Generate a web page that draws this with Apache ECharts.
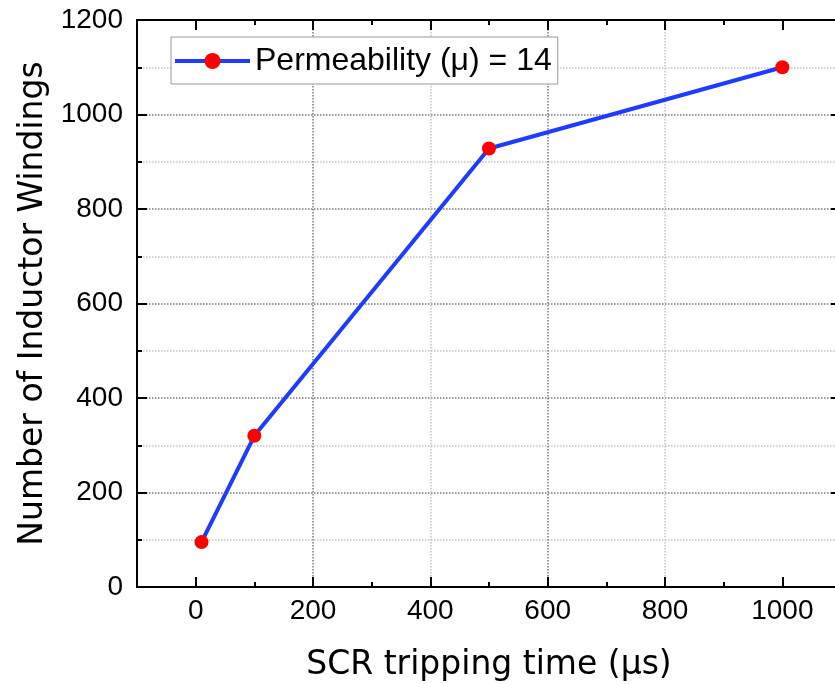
<!DOCTYPE html>
<html>
<head>
<meta charset="utf-8">
<script src="https://cdn.jsdelivr.net/npm/echarts@6/dist/echarts.min.js"></script>
<style>
html,body{margin:0;padding:0;background:#fff;}
#chart{width:835px;height:684px;}
</style>
</head>
<body>
<div id="chart"></div>
<script>
const seriesName = 'Permeability (\u03bc) = 14';
const tripTime = [10, 100, 500, 1000];
const windings = [95, 320, 928, 1100];
const xMajorTicks = [0, 200, 400, 600, 800, 1000];
const xMinorTicks = [100, 300, 500, 700, 900];
const xTitle = 'SCR tripping time (\u03bcs)';
const yTitle = 'Number of Inductor Windings';

const FONT = '"Liberation Sans", Arial, sans-serif';
const NAME_FONT = '"DejaVu Sans", "Liberation Sans", Arial, sans-serif';
const MAJOR_GRID = '#7a7a7a';
const MINOR_GRID = '#c4c4c4';
const gridRect = {left: 137, top: 20, width: 704, height: 567, outerBoundsMode: 'none', containLabel: false};

const chart = echarts.init(document.getElementById('chart'), null, {renderer: 'canvas'});

const axisLineStyle = {show: true, onZero: false, lineStyle: {color: '#000', width: 2}};
const plainNum = v => String(v);

const option = {
  backgroundColor: '#fff',
  animation: false,
  grid: [
    Object.assign({}, gridRect),
    Object.assign({}, gridRect)
  ],
  legend: {
    left: 171, top: 37,
    padding: [7, 6, 6, 2],
    itemWidth: 75, itemHeight: 20,
    itemGap: 8,
    borderColor: '#999', borderWidth: 1,
    backgroundColor: '#fff',
    lineStyle: {width: 4},
    textStyle: {fontFamily: FONT, fontSize: 32, color: '#000', lineHeight: 34},
    data: [seriesName]
  },
  xAxis: [
    {
      type: 'value', gridIndex: 0, position: 'bottom',
      min: -100, max: 1100, interval: 100,
      axisLine: axisLineStyle,
      axisTick: {show: true, inside: true, length: 10, customValues: xMajorTicks, lineStyle: {color: '#000', width: 2}},
      axisLabel: {show: true, customValues: xMajorTicks, formatter: plainNum, fontFamily: FONT, fontSize: 28, color: '#000', margin: 10},
      splitLine: {show: true, showMinLine: false, showMaxLine: false, lineStyle: {color: [MAJOR_GRID, MINOR_GRID], type: 'dotted', width: 1.5}},
      name: xTitle, nameLocation: 'middle', nameGap: 62,
      nameTextStyle: {fontFamily: NAME_FONT, fontSize: 33, color: '#000'}
    },
    {
      type: 'value', gridIndex: 0, position: 'top',
      min: -100, max: 1100, interval: 100,
      axisLine: axisLineStyle,
      axisTick: {show: true, inside: true, length: 10, customValues: xMajorTicks, lineStyle: {color: '#000', width: 2}},
      axisLabel: {show: false},
      splitLine: {show: false}
    },
    {
      type: 'value', gridIndex: 1, position: 'bottom',
      min: -100, max: 1100, interval: 100,
      axisLine: {show: false},
      axisTick: {show: true, inside: true, length: 5, customValues: xMinorTicks, lineStyle: {color: '#000', width: 2}},
      axisLabel: {show: false},
      splitLine: {show: false}
    },
    {
      type: 'value', gridIndex: 1, position: 'top',
      min: -100, max: 1100, interval: 100,
      axisLine: {show: false},
      axisTick: {show: true, inside: true, length: 5, customValues: xMinorTicks, lineStyle: {color: '#000', width: 2}},
      axisLabel: {show: false},
      splitLine: {show: false}
    }
  ],
  yAxis: [
    {
      type: 'value', gridIndex: 0, position: 'left',
      min: 0, max: 1200, interval: 200,
      axisLine: axisLineStyle,
      axisTick: {show: true, inside: true, length: 10, lineStyle: {color: '#000', width: 2}},
      minorTick: {show: true, splitNumber: 2, length: 5, lineStyle: {color: '#000', width: 2}},
      axisLabel: {show: true, formatter: plainNum, fontFamily: FONT, fontSize: 28, color: '#000', margin: 14},
      splitLine: {show: true, showMinLine: false, showMaxLine: false, lineStyle: {color: MAJOR_GRID, type: 'dotted', width: 1.5}},
      minorSplitLine: {show: true, lineStyle: {color: MINOR_GRID, type: 'dotted', width: 1.5}},
      name: yTitle, nameLocation: 'middle', nameGap: 73,
      nameTextStyle: {fontFamily: NAME_FONT, fontSize: 33, color: '#000'}
    },
    {
      type: 'value', gridIndex: 0, position: 'right',
      min: 0, max: 1200, interval: 200,
      axisLine: axisLineStyle,
      axisTick: {show: true, inside: true, length: 10, lineStyle: {color: '#000', width: 2}},
      minorTick: {show: true, splitNumber: 2, length: 5, lineStyle: {color: '#000', width: 2}},
      axisLabel: {show: false},
      splitLine: {show: false}
    },
    {
      type: 'value', gridIndex: 1, min: 0, max: 1200, show: false
    }
  ],
  series: [
    {
      name: seriesName,
      type: 'line',
      xAxisIndex: 0, yAxisIndex: 0,
      data: tripTime.map((t, i) => [t, windings[i]]),
      symbol: 'circle', symbolSize: 14,
      lineStyle: {color: '#1e3cff', width: 4},
      itemStyle: {color: '#ff0000'},
      z: 5
    }
  ]
};

chart.setOption(option);
</script>
</body>
</html>
